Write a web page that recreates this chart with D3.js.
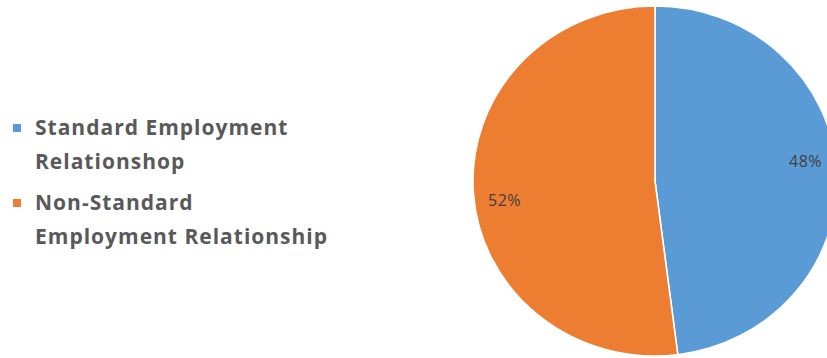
<!DOCTYPE html>
<html>
<head>
<meta charset="utf-8">
<script src="https://cdn.jsdelivr.net/npm/d3@7"></script>
<style>
  html, body { margin: 0; padding: 0; background: #fff; }
  svg { display: block; }
</style>
</head>
<body>
<svg id="chart"></svg>
<script>
// chart data
const categories = ['Standard Employment Relationshop', 'Non-Standard Employment Relationship'];
const values = [48, 52];
const legendLines = [['Standard Employment', 'Relationshop'], ['Non-Standard', 'Employment Relationship']];
const colors = ['#5b9bd5', '#ed7d31'];

const width = 827;
const height = 358;
const cx = 655, cy = 181, radius = 175;
const stretchX = 1.04; // pie in the picture is slightly wider than tall

const svg = d3.select('#chart').attr('width', width).attr('height', height);

const pie = d3.pie().sort(null).value(d => d)(values);
const arc = d3.arc().innerRadius(0).outerRadius(radius);

const g = svg.append('g').attr('transform', `translate(${cx},${cy})`);

g.append('g')
  .attr('transform', `scale(${stretchX},1)`)
  .selectAll('path')
  .data(pie)
  .enter()
  .append('path')
  .attr('d', arc)
  .attr('fill', (d, i) => colors[i])
  .attr('stroke', '#fff')
  .attr('stroke-width', 1.5);

// data labels, a bit inside the outer edge
const labelR = 146;
const labelShift = -4 * Math.PI / 180;
g.selectAll('text.lbl')
  .data(pie)
  .enter()
  .append('text')
  .attr('class', 'lbl')
  .attr('x', d => Math.sin((d.startAngle + d.endAngle) / 2 + labelShift) * labelR * stretchX)
  .attr('y', d => -Math.cos((d.startAngle + d.endAngle) / 2 + labelShift) * labelR)
  .attr('dy', '0.35em')
  .attr('text-anchor', 'middle')
  .attr('font-family', 'Open Sans, sans-serif')
  .attr('font-size', 16)
  .attr('letter-spacing', 0.5)
  .attr('fill', '#404040')
  .text(d => d.data + '%');

// legend
const legend = svg.append('g').attr('transform', 'translate(13,0)');
const itemTops = [128, 203];
const lineGap = 34;

legendLines.forEach((lines, i) => {
  const item = legend.append('g').attr('transform', `translate(0,${itemTops[i]})`);
  item.append('rect')
    .attr('x', 0)
    .attr('y', -4)
    .attr('width', 8)
    .attr('height', 8)
    .attr('fill', colors[i]);
  lines.forEach((t, j) => {
    item.append('text')
      .attr('x', 22)
      .attr('y', j * lineGap)
      .attr('dy', '0.35em')
      .attr('font-family', 'Open Sans, sans-serif')
      .attr('font-weight', 700)
      .attr('font-size', 21)
      .attr('letter-spacing', 1)
      .attr('fill', '#595959')
      .text(t);
  });
});
</script>
</body>
</html>
